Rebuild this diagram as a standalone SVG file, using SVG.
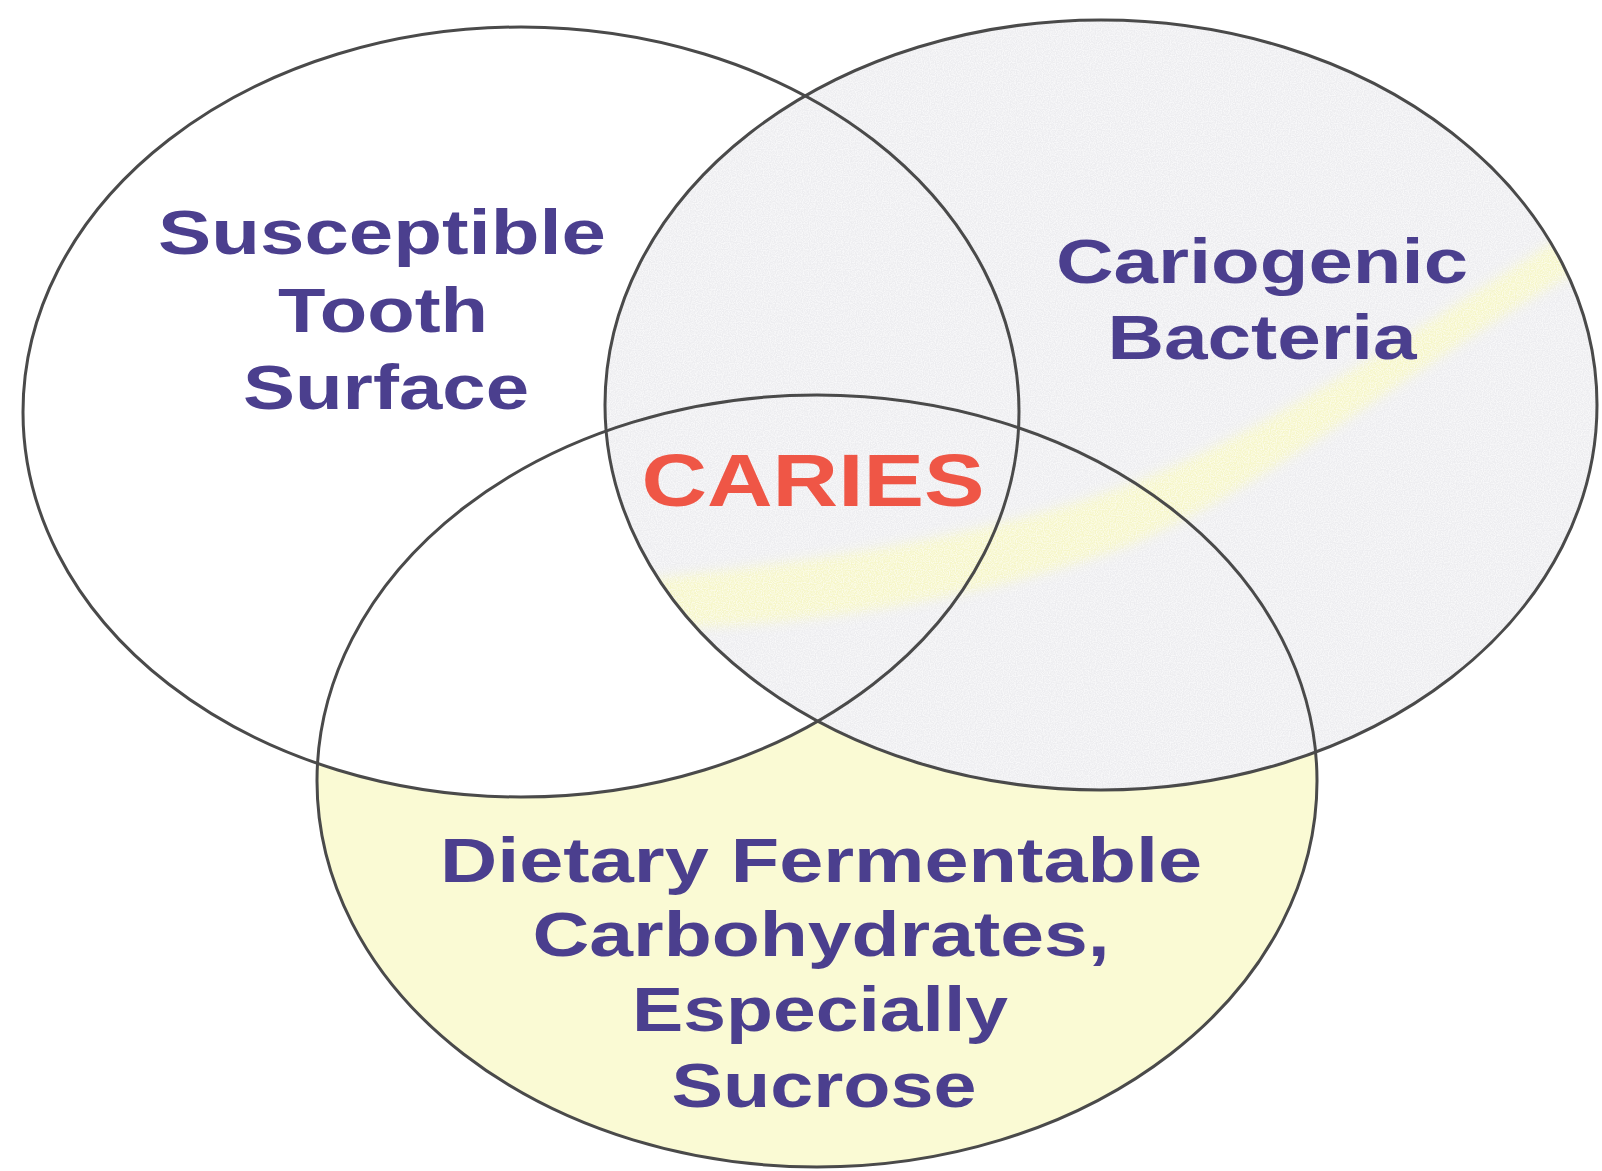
<svg xmlns="http://www.w3.org/2000/svg" width="1602" height="1171" viewBox="0 0 1602 1171">
<style>
.outline{fill:none;stroke:#4a4a4a;stroke-width:3}
.lbl{font-family:"Liberation Sans",Arial,sans-serif;font-weight:bold;font-size:63px;fill:#4b3f8e;text-anchor:middle}
.caries{font-family:"Liberation Sans",Arial,sans-serif;font-weight:bold;font-size:75px;fill:#ef5646;text-anchor:middle}
</style>
<defs>
<clipPath id="clipRight"><ellipse cx="1101" cy="405" rx="496" ry="385"/></clipPath>
<filter id="soft" x="-10%" y="-10%" width="120%" height="120%">
<feGaussianBlur stdDeviation="6"/>
</filter>
<filter id="speckle" x="0" y="0" width="100%" height="100%">
<feTurbulence type="fractalNoise" baseFrequency="0.85" numOctaves="1" seed="4" result="n"/>
<feColorMatrix in="n" type="matrix" values="0 0 0 0 1  0 0 0 0 1  0 0 0 0 1  0 0 0 -3 1.9" result="w"/>
<feComposite in="w" in2="SourceGraphic" operator="in"/>
</filter>
</defs>
<rect width="1602" height="1171" fill="#ffffff"/>
<g id="node-dietary">
<ellipse cx="817" cy="781" rx="500" ry="386" fill="#fafad4"/>
<text class="lbl" x="821" y="882" textLength="762" lengthAdjust="spacingAndGlyphs">Dietary Fermentable</text>
<text class="lbl" x="821" y="956" textLength="577" lengthAdjust="spacingAndGlyphs">Carbohydrates,</text>
<text class="lbl" x="820" y="1031" textLength="376" lengthAdjust="spacingAndGlyphs">Especially</text>
<text class="lbl" x="824" y="1107" textLength="305" lengthAdjust="spacingAndGlyphs">Sucrose</text>
</g>
<g id="node-tooth">
<ellipse cx="521" cy="412" rx="498" ry="385" fill="#ffffff"/>
<text class="lbl" x="382" y="254" textLength="448" lengthAdjust="spacingAndGlyphs">Susceptible</text>
<text class="lbl" x="383" y="332" textLength="210" lengthAdjust="spacingAndGlyphs">Tooth</text>
<text class="lbl" x="386" y="409" textLength="286" lengthAdjust="spacingAndGlyphs">Surface</text>
</g>
<g id="node-bacteria">
<ellipse cx="1101" cy="405" rx="496" ry="385" fill="#ededf0"/>
<g clip-path="url(#clipRight)">
<path filter="url(#soft)" d="M640 580 C780 565 950 545 1100 495 C1250 445 1400 340 1580 225 L1592 262 C1420 360 1280 480 1130 545 C980 600 800 628 640 628 Z" fill="#f7f7c4" opacity="0.9"/>
</g>
<ellipse cx="1101" cy="405" rx="496" ry="385" fill="#000" filter="url(#speckle)" opacity="0.6"/>
<text class="lbl" x="1262" y="283" textLength="412" lengthAdjust="spacingAndGlyphs">Cariogenic</text>
<text class="lbl" x="1262" y="359" textLength="309" lengthAdjust="spacingAndGlyphs">Bacteria</text>
</g>
<g id="connectors">
<ellipse class="outline" cx="817" cy="781" rx="500" ry="386"/>
<ellipse class="outline" cx="521" cy="412" rx="498" ry="385"/>
<ellipse class="outline" cx="1101" cy="405" rx="496" ry="385"/>
</g>
<g id="node-caries">
<text class="caries" x="813" y="506" textLength="343" lengthAdjust="spacingAndGlyphs">CARIES</text>
</g>
</svg>
